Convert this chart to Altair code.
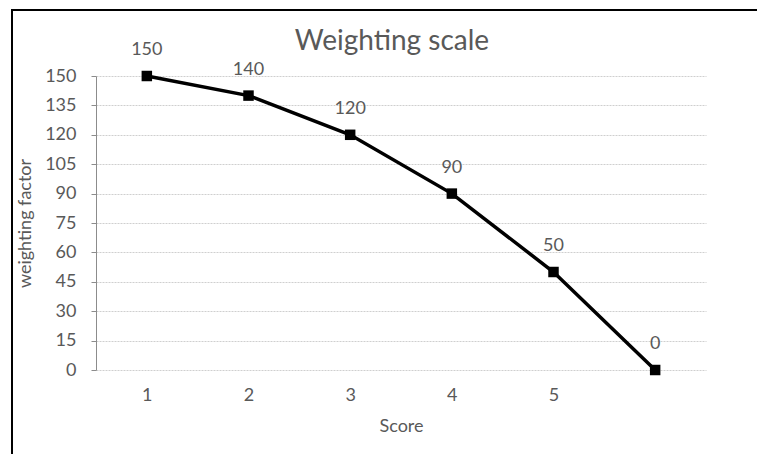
import altair as alt
import pandas as pd

# Weighting factor for each score; the last category has no label
scores = ["1", "2", "3", "4", "5", ""]
weights = [150, 140, 120, 90, 50, 0]
y_ticks = [0, 15, 30, 45, 60, 75, 90, 105, 120, 135, 150]
chart_title = "Weighting scale"

df = pd.DataFrame({"score": scores, "weight": weights})

FONT = "Lato"
GREY = "#595959"
FS = 18

x_enc = alt.X(
    "score:N",
    sort=scores,
    scale=alt.Scale(type="point", padding=0.5),
    axis=alt.Axis(
        title="Score",
        domain=False,
        ticks=False,
        grid=False,
        labelAngle=0,
        labelPadding=16,
        titlePadding=13,
        labelFontSize=FS,
        titleFontSize=FS,
        labelColor=GREY,
        titleColor=GREY,
        labelFont=FONT,
        titleFont=FONT,
        titleFontWeight="normal",
    ),
)
y_enc = alt.Y(
    "weight:Q",
    scale=alt.Scale(domain=[0, 150], nice=False),
    axis=alt.Axis(
        title="weighting factor",
        values=y_ticks,
        domainColor="#8c8c8c",
        tickColor="#8c8c8c",
        tickSize=5,
        labelPadding=15,
        titlePadding=10,
        labelFontSize=FS,
        titleFontSize=FS,
        labelColor=GREY,
        titleColor=GREY,
        labelFont=FONT,
        titleFont=FONT,
        titleFontWeight="normal",
        gridColor="#cfcfcf",
        gridDash=[2, 1],
        gridWidth=1,
    ),
)

base = alt.Chart(df)

line = base.mark_line(color="black", strokeWidth=3.5).encode(x=x_enc, y=y_enc)
points = base.mark_square(color="black", size=110, opacity=1).encode(x=x_enc, y=y_enc)
labels = base.mark_text(
    dy=-26, fontSize=FS, font=FONT, color=GREY
).encode(x=x_enc, y=y_enc, text="weight:Q")

one_row = pd.DataFrame({"t": [chart_title]})

# outer frame: top and left edges only, the rest runs off the canvas
frame_top = alt.Chart(one_row).mark_rule(color="black", strokeWidth=2).encode(
    x=alt.value(-85), x2=alt.value(700), y=alt.value(-66)
)
frame_left = alt.Chart(one_row).mark_rule(color="black", strokeWidth=2).encode(
    x=alt.value(-84), y=alt.value(-67), y2=alt.value(420)
)

# chart heading, centred over the plot
heading = alt.Chart(one_row).mark_text(
    fontSize=28, font=FONT, color=GREY, align="center", baseline="middle"
).encode(x=alt.value(296), y=alt.value(-34), text="t:N")

chart = (
    alt.layer(frame_top, frame_left, line, points, labels, heading)
    .properties(
        width=610,
        height=294,
        padding={"left": 96, "top": 76, "right": 51, "bottom": 84},
        autosize=alt.AutoSizeParams(type="none"),
    )
    .configure_view(stroke=None)
)

chart.save("out.html", embed_options={"renderer": "svg", "actions": False})
